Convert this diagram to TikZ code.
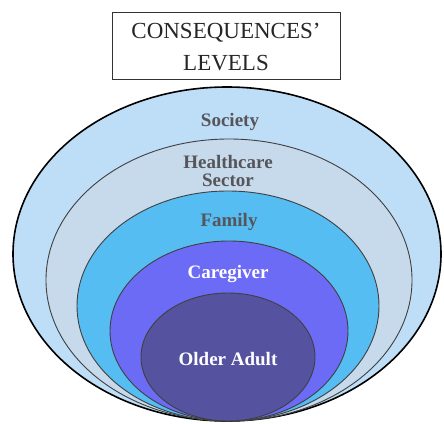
\documentclass[tikz,border=0pt]{standalone}
\usepackage{fontspec}
\setmainfont{Liberation Serif}
\definecolor{societyblue}{RGB}{190,221,247}
\definecolor{healthgray}{RGB}{199,218,236}
\definecolor{familyblue}{RGB}{86,189,243}
\definecolor{careviolet}{RGB}{108,107,245}
\definecolor{olderpurple}{RGB}{85,82,160}
\definecolor{labelgray}{RGB}{85,85,90}
\tikzset{
    level/.style={draw=black!75, line width=0.9pt},
    levellabel/.style={font=\bfseries\fontsize{19}{18}\selectfont, align=center, inner sep=0pt},
}
\begin{document}
\begin{tikzpicture}[x=1pt, y=-1pt]
    \useasboundingbox (0, 0) rectangle (444, 423);

    % title box
    \draw[black!80, line width=0.9pt] (112, 12) rectangle (340, 79);
    \node[font=\fontsize{23}{25}\selectfont, text=black!85] (title1) at (226, 33) {CONSEQUENCES’};
    \node[font=\fontsize{23}{25}\selectfont, text=black!85] (title2) at (226, 63) {LEVELS};

    % nested levels
    \fill[societyblue] (227, 254) ellipse [x radius=214pt, y radius=167pt];
    \draw[black, line width=1.6pt] (227, 254) ellipse [x radius=214pt, y radius=167pt];
    \filldraw[level, fill=healthgray] (229, 280) ellipse [x radius=183pt, y radius=141pt];
    \filldraw[level, fill=familyblue] (228, 306) ellipse [x radius=151pt, y radius=115pt];
    \filldraw[level, fill=careviolet] (229, 331) ellipse [x radius=119pt, y radius=90pt];
    \filldraw[level, fill=olderpurple] (228, 357) ellipse [x radius=87pt, y radius=64pt];

    % labels
    \node[levellabel, text=labelgray] (society) at (230, 122) {Society};
    \node[levellabel, text=labelgray] (health) at (228, 171) {Healthcare\\Sector};
    \node[levellabel, text=labelgray] (family) at (229, 222) {Family};
    \node[levellabel, text=white] (caregiver) at (228, 274) {Caregiver};
    \node[levellabel, text=white] (older) at (228, 359) {Older Adult};
\end{tikzpicture}
\end{document}
